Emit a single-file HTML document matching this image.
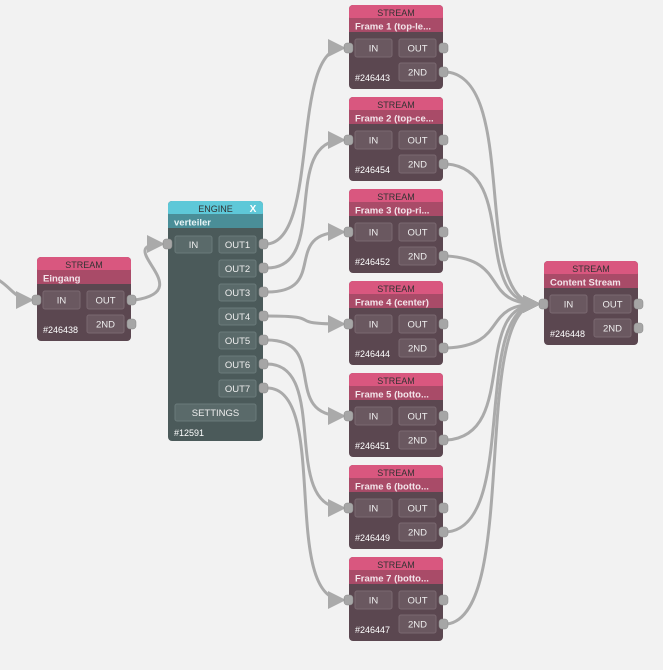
<!DOCTYPE html>
<html><head><meta charset="utf-8"><style>
html,body{margin:0;padding:0;background:#f2f2f2;}
svg{display:block;font-family:"Liberation Sans",sans-serif;}
.b{fill:#6a5860;stroke:#7a6870;stroke-width:1}
.eb{fill:#5a6a6a;stroke:#6a7a7a;stroke-width:1}
.bt{fill:#eee;font-size:9.5px;text-anchor:middle}
.p{fill:#a6a6a6;stroke:#888;stroke-width:.5}
.c{fill:none;stroke:#aaa;stroke-width:3}
</style></head><body>
<svg width="663" height="670" viewBox="0 0 663 670">
<defs>
<marker id="a" markerWidth="6" markerHeight="6" refX="5" refY="3" orient="auto" markerUnits="strokeWidth"><path d="M0,0 L6,3 L0,6 z" fill="#aaa"/></marker>
<g id="sn">
<rect x="0" y="0" width="94" height="84" rx="4" fill="#5b4750"/>
<rect x="0" y="0" width="94" height="16" rx="4" fill="#d9577f"/>
<rect x="0" y="13" width="94" height="14" fill="#a94b68"/>
<text x="47" y="11" font-size="9" fill="#333" text-anchor="middle">STREAM</text>
<rect class="b" x="6" y="34" width="37" height="18" rx="2"/>
<text class="bt" x="24.5" y="46.5">IN</text>
<rect class="b" x="50" y="34" width="37" height="18" rx="2"/>
<text class="bt" x="68.5" y="46.5">OUT</text>
<rect class="b" x="50" y="58" width="37" height="18" rx="2"/>
<text class="bt" x="68.5" y="70.5">2ND</text>
<rect class="p" x="-5" y="38" width="9" height="10" rx="3"/>
<rect class="p" x="90" y="38" width="9" height="10" rx="3"/>
<rect class="p" x="90" y="62" width="9" height="10" rx="3"/>
</g>
</defs>
<!-- connections -->
<path class="c" marker-end="url(#a)" d="M-5,278 C10,285 15,300 31,300"/>
<path class="c" marker-end="url(#a)" d="M135,300 C200,290 110,244 162,244"/>
<path class="c" marker-end="url(#a)" d="M267,244 C320,240 290,48 343,48"/>
<path class="c" marker-end="url(#a)" d="M267,268 C330,268 280,140 343,140"/>
<path class="c" marker-end="url(#a)" d="M267,292 C330,292 280,232 343,232"/>
<path class="c" marker-end="url(#a)" d="M267,316 C330,316 280,324 343,324"/>
<path class="c" marker-end="url(#a)" d="M267,340 C330,340 280,416 343,416"/>
<path class="c" marker-end="url(#a)" d="M267,364 C330,364 280,508 343,508"/>
<path class="c" marker-end="url(#a)" d="M267,388 C330,388 280,600 343,600"/>
<path class="c" marker-end="url(#a)" d="M447,72 C520,80 470,304 538,304"/>
<path class="c" marker-end="url(#a)" d="M447,164 C520,170 470,304 538,304"/>
<path class="c" marker-end="url(#a)" d="M447,256 C510,260 480,304 538,304"/>
<path class="c" marker-end="url(#a)" d="M447,348 C510,345 480,304 538,304"/>
<path class="c" marker-end="url(#a)" d="M447,440 C520,435 470,304 538,304"/>
<path class="c" marker-end="url(#a)" d="M447,532 C520,525 470,304 538,304"/>
<path class="c" marker-end="url(#a)" d="M447,624 C520,615 470,304 538,304"/>
<!-- Eingang -->
<g transform="translate(37,257)"><use href="#sn"/>
<text x="6" y="24.5" font-size="9.5" font-weight="bold" fill="#f3e4ea">Eingang</text>
<text x="6" y="76" font-size="9" fill="#fff">#246438</text></g>
<!-- Engine -->
<g transform="translate(168,201)">
<rect x="0" y="0" width="95" height="240" rx="4" fill="#4b5a5a"/>
<rect x="0" y="0" width="95" height="16" rx="4" fill="#5ec8d8"/>
<rect x="0" y="13" width="95" height="14" fill="#4a8e98"/>
<text x="47.5" y="11" font-size="9" fill="#333" text-anchor="middle">ENGINE</text>
<text x="85" y="11" font-size="10" font-weight="bold" fill="#fff" text-anchor="middle">X</text>
<text x="6" y="24.5" font-size="9.5" font-weight="bold" fill="#e6f4f6">verteiler</text>
<rect class="eb" x="7" y="35" width="37" height="17" rx="2"/><text class="bt" x="25.5" y="47">IN</text>
<rect class="p" x="-5" y="38" width="9" height="10" rx="3"/>
<rect class="eb" x="51" y="35" width="37" height="17" rx="2"/><text class="bt" x="69.5" y="47">OUT1</text>
<rect class="eb" x="51" y="59" width="37" height="17" rx="2"/><text class="bt" x="69.5" y="71">OUT2</text>
<rect class="eb" x="51" y="83" width="37" height="17" rx="2"/><text class="bt" x="69.5" y="95">OUT3</text>
<rect class="eb" x="51" y="107" width="37" height="17" rx="2"/><text class="bt" x="69.5" y="119">OUT4</text>
<rect class="eb" x="51" y="131" width="37" height="17" rx="2"/><text class="bt" x="69.5" y="143">OUT5</text>
<rect class="eb" x="51" y="155" width="37" height="17" rx="2"/><text class="bt" x="69.5" y="167">OUT6</text>
<rect class="eb" x="51" y="179" width="37" height="17" rx="2"/><text class="bt" x="69.5" y="191">OUT7</text>
<rect class="p" x="91" y="38" width="9" height="10" rx="3"/>
<rect class="p" x="91" y="62" width="9" height="10" rx="3"/>
<rect class="p" x="91" y="86" width="9" height="10" rx="3"/>
<rect class="p" x="91" y="110" width="9" height="10" rx="3"/>
<rect class="p" x="91" y="134" width="9" height="10" rx="3"/>
<rect class="p" x="91" y="158" width="9" height="10" rx="3"/>
<rect class="p" x="91" y="182" width="9" height="10" rx="3"/>
<rect class="eb" x="7" y="203" width="81" height="17" rx="2"/><text class="bt" x="47.5" y="215">SETTINGS</text>
<text x="6" y="235" font-size="9" fill="#fff">#12591</text>
</g>
<!-- Frames -->
<g transform="translate(349,5)"><use href="#sn"/><text x="6" y="24.5" font-size="9.5" font-weight="bold" fill="#f3e4ea">Frame 1 (top-le...</text><text x="6" y="76" font-size="9" fill="#fff">#246443</text></g>
<g transform="translate(349,97)"><use href="#sn"/><text x="6" y="24.5" font-size="9.5" font-weight="bold" fill="#f3e4ea">Frame 2 (top-ce...</text><text x="6" y="76" font-size="9" fill="#fff">#246454</text></g>
<g transform="translate(349,189)"><use href="#sn"/><text x="6" y="24.5" font-size="9.5" font-weight="bold" fill="#f3e4ea">Frame 3 (top-ri...</text><text x="6" y="76" font-size="9" fill="#fff">#246452</text></g>
<g transform="translate(349,281)"><use href="#sn"/><text x="6" y="24.5" font-size="9.5" font-weight="bold" fill="#f3e4ea">Frame 4 (center)</text><text x="6" y="76" font-size="9" fill="#fff">#246444</text></g>
<g transform="translate(349,373)"><use href="#sn"/><text x="6" y="24.5" font-size="9.5" font-weight="bold" fill="#f3e4ea">Frame 5 (botto...</text><text x="6" y="76" font-size="9" fill="#fff">#246451</text></g>
<g transform="translate(349,465)"><use href="#sn"/><text x="6" y="24.5" font-size="9.5" font-weight="bold" fill="#f3e4ea">Frame 6 (botto...</text><text x="6" y="76" font-size="9" fill="#fff">#246449</text></g>
<g transform="translate(349,557)"><use href="#sn"/><text x="6" y="24.5" font-size="9.5" font-weight="bold" fill="#f3e4ea">Frame 7 (botto...</text><text x="6" y="76" font-size="9" fill="#fff">#246447</text></g>
<!-- Content Stream -->
<g transform="translate(544,261)"><use href="#sn"/><text x="6" y="24.5" font-size="9.5" font-weight="bold" fill="#f3e4ea">Content Stream</text><text x="6" y="76" font-size="9" fill="#fff">#246448</text></g>
</svg>
</body></html>
